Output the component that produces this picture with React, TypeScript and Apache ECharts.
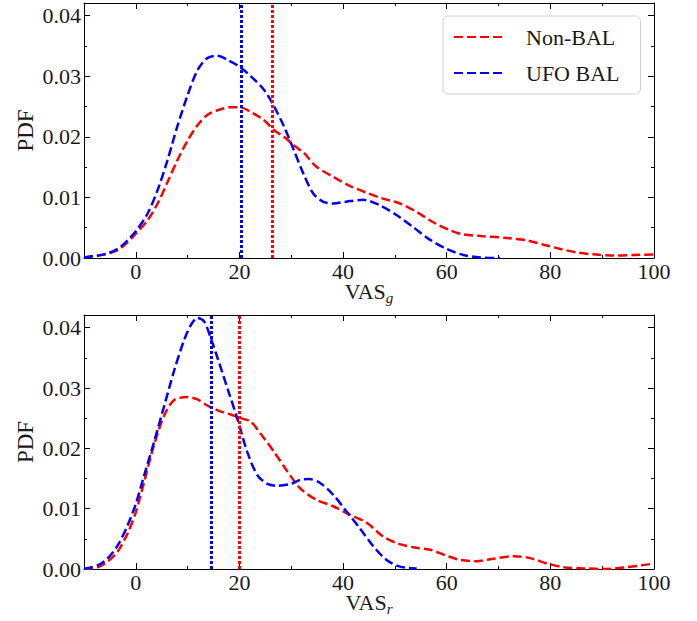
import React, { useEffect, useRef } from "react";
import * as echarts from "echarts";

// ---------- data ----------
const seriesNames = ["Non-BAL", "UFO BAL"];

// Top panel (VAS_g)
const gNonBalX = [-10, -6.1, -3.5, -1.6, 0, 2.25, 4.2, 6.1, 8.0, 10, 11.9, 13.8, 15.8, 18.3, 20, 22.2, 24.8, 26.7, 28.6, 30.5, 32.5, 34.8, 38.1, 41.3, 44.5, 47.7, 51, 54.2, 57.4, 60.6, 63.2, 67.1, 71.6, 75.5, 78.7, 81.9, 85.2, 88.4, 92.3, 96.1, 100];
const gNonBalY = [0.0001, 0.0006, 0.0013, 0.0026, 0.004, 0.0062, 0.009, 0.0125, 0.0161, 0.0194, 0.0219, 0.0236, 0.0244, 0.0249, 0.0249, 0.0241, 0.0227, 0.0211, 0.02, 0.0186, 0.0173, 0.0151, 0.0134, 0.0119, 0.0108, 0.0098, 0.009, 0.0076, 0.0059, 0.0046, 0.0039, 0.0036, 0.0033, 0.0029, 0.0022, 0.0015, 0.0009, 0.0006, 0.0004, 0.0005, 0.0006];
const gUfoX = [-10, -6.1, -3.5, -1.6, 0, 2.25, 4.2, 6.1, 8.0, 10, 11.9, 13.8, 15.8, 17.7, 20, 22.2, 24.8, 26.7, 28.6, 30.5, 32.3, 34.2, 36.1, 38.1, 40.6, 43.9, 47.1, 50.3, 53.5, 56.8, 60, 63.2, 66.5, 70.3];
const gUfoY = [0.0001, 0.0006, 0.0015, 0.0029, 0.0044, 0.0073, 0.0112, 0.0161, 0.0217, 0.0269, 0.031, 0.033, 0.0334, 0.0327, 0.0316, 0.03, 0.0277, 0.025, 0.0217, 0.0178, 0.014, 0.0107, 0.0093, 0.009, 0.0093, 0.0096, 0.0087, 0.0071, 0.0051, 0.003, 0.0015, 0.0005, 0.0001, 0];
const gMedians = [26.4, 20.3];

// Bottom panel (VAS_r)
const rNonBalX = [-10, -7.4, -5.5, -3.5, -1.6, 0, 1.6, 3.5, 5.5, 7.4, 10, 11.9, 13.8, 15.8, 18.3, 20.3, 22.2, 24.1, 26.7, 29.3, 31.8, 34.8, 38.1, 41.3, 44.5, 47.7, 50.3, 53.5, 56.8, 60, 62.6, 65.8, 69, 72.9, 76.1, 79.4, 82.6, 86.5, 91, 94.8, 100];
const rNonBalY = [0, 0.0003, 0.0012, 0.0029, 0.0059, 0.0094, 0.0144, 0.0205, 0.0255, 0.028, 0.0285, 0.0281, 0.0271, 0.0263, 0.0256, 0.025, 0.0244, 0.0224, 0.0194, 0.0161, 0.0133, 0.0115, 0.0104, 0.009, 0.0077, 0.0054, 0.0043, 0.0036, 0.0032, 0.0022, 0.0015, 0.0013, 0.0017, 0.0021, 0.0018, 0.0009, 0.0003, 0.0001, 0, 0.0003, 0.0009];
const rUfoX = [-10, -7.4, -5.5, -3.5, -1.6, 0, 1.6, 3.5, 5.5, 7.4, 9.3, 10.6, 11.9, 13.2, 14.5, 15.8, 17.7, 19.6, 21.5, 23.5, 25.4, 27.3, 29.9, 31.8, 33.5, 35.5, 38.1, 40.6, 43.2, 45.8, 48.4, 51, 54.2];
const rUfoY = [0, 0.0006, 0.0017, 0.0039, 0.0072, 0.0108, 0.0155, 0.021, 0.0271, 0.0329, 0.0379, 0.0404, 0.0416, 0.041, 0.0382, 0.0349, 0.0299, 0.0249, 0.0194, 0.0155, 0.0141, 0.0138, 0.0141, 0.0148, 0.0149, 0.0143, 0.0123, 0.0096, 0.0068, 0.0038, 0.0015, 0.0004, 0.0001];
const rMedians = [19.9, 14.5];

const xMajorTicks = [0, 20, 40, 60, 80, 100];
const xMinorTicks = [10, 30, 50, 70, 90];
const yMajorTicks = [0, 0.01, 0.02, 0.03, 0.04];
const yMinorTicks = [0.005, 0.015, 0.025, 0.035];
const X_MIN = -10;
const X_MAX = 100;
const Y_MAX = 0.0421;

const colors = ["#ff0000", "#0000ff"];
const FONT = "Liberation Serif";
const TEXT = "#1a1a1a";

const zip = (xs: number[], ys: number[]) => xs.map((x, i) => [x, ys[i]]);

function xAxes(gridIndex: number, sub: string) {
  const base = {
    type: "value",
    gridIndex,
    min: X_MIN,
    max: X_MAX,
    interval: 10,
    splitLine: { show: false },
  };
  const tickStyle = { color: "#000", width: 1 };
  const line = { show: true, onZero: false, lineStyle: { color: "#000", width: 1 } };
  const noLine = { show: false, onZero: false };
  return [
    {
      ...base,
      position: "bottom",
      axisLine: line,
      axisTick: { show: true, inside: true, length: 6, customValues: xMajorTicks, lineStyle: tickStyle },
      axisLabel: { show: true, customValues: xMajorTicks, fontSize: 22, fontFamily: FONT, color: TEXT, margin: 4, lineHeight: 18 },
      name: `{a|VAS}{b|${sub}}`,
      nameLocation: "middle",
      nameGap: 22,
      nameMoveOverlap: false,
      nameTextStyle: {
        rich: {
          a: { fontSize: 22, fontFamily: FONT, color: TEXT, lineHeight: 22, verticalAlign: "top" },
          b: { fontSize: 15, fontFamily: FONT, fontStyle: "italic", color: TEXT, lineHeight: 16, verticalAlign: "top", padding: [10, 0, 0, 0] },
        },
      },
    },
    {
      ...base,
      position: "top",
      axisLine: line,
      axisTick: { show: true, inside: true, length: 6, customValues: xMajorTicks, lineStyle: tickStyle },
      axisLabel: { show: false },
    },
    {
      ...base,
      position: "bottom",
      axisLine: noLine,
      axisTick: { show: true, inside: true, length: 3, customValues: xMinorTicks, lineStyle: tickStyle },
      axisLabel: { show: false },
    },
    {
      ...base,
      position: "top",
      axisLine: noLine,
      axisTick: { show: true, inside: true, length: 3, customValues: xMinorTicks, lineStyle: tickStyle },
      axisLabel: { show: false },
    },
  ];
}

function yAxes(gridIndex: number) {
  const base = {
    type: "value",
    gridIndex,
    min: 0,
    max: Y_MAX,
    interval: 0.01,
    splitLine: { show: false },
  };
  const tickStyle = { color: "#000", width: 1 };
  const line = { show: true, onZero: false, lineStyle: { color: "#000", width: 1 } };
  const noLine = { show: false, onZero: false };
  return [
    {
      ...base,
      position: "left",
      axisLine: line,
      axisTick: { show: true, inside: true, length: 6, customValues: yMajorTicks, lineStyle: tickStyle },
      axisLabel: {
        show: true,
        customValues: yMajorTicks,
        fontSize: 22,
        fontFamily: FONT,
        color: TEXT,
        margin: 3,
        formatter: (v: number) => v.toFixed(2),
      },
      name: "PDF",
      nameLocation: "middle",
      nameGap: 47,
      nameRotate: 90,
      nameMoveOverlap: false,
      nameTextStyle: { fontSize: 23, fontFamily: FONT, color: TEXT },
    },
    {
      ...base,
      position: "right",
      axisLine: line,
      axisTick: { show: true, inside: true, length: 6, customValues: yMajorTicks, lineStyle: tickStyle },
      axisLabel: { show: false },
    },
    {
      ...base,
      position: "left",
      axisLine: noLine,
      axisTick: { show: true, inside: true, length: 3, customValues: yMinorTicks, lineStyle: tickStyle },
      axisLabel: { show: false },
    },
    {
      ...base,
      position: "right",
      axisLine: noLine,
      axisTick: { show: true, inside: true, length: 3, customValues: yMinorTicks, lineStyle: tickStyle },
      axisLabel: { show: false },
    },
  ];
}

function curve(name: string, color: string, data: number[][], axisIdx: number, median: number) {
  return {
    type: "line",
    name,
    xAxisIndex: axisIdx,
    yAxisIndex: axisIdx,
    data,
    smooth: 0.3,
    symbol: "none",
    showSymbol: false,
    clip: true,
    lineStyle: { color, width: 2.5, type: [9, 4] },
    itemStyle: { color },
    markLine: {
      silent: true,
      symbol: "none",
      label: { show: false },
      lineStyle: { color, width: 3, type: [3, 2] },
      data: [{ xAxis: median }],
    },
    z: 3,
  };
}

export default function App() {
  const ref = useRef<HTMLDivElement>(null);
  useEffect(() => {
    if (!ref.current) return;
    const chart = echarts.init(ref.current, null, { renderer: "svg" });
    chart.setOption({
      animation: false,
      backgroundColor: "#ffffff",
      grid: [
        { left: 84, top: 3, width: 570, height: 255 },
        { left: 84, top: 315, width: 570, height: 254 },
      ],
      xAxis: [...xAxes(0, "g"), ...xAxes(1, "r")],
      yAxis: [...yAxes(0), ...yAxes(1)],
      legend: {
        data: seriesNames,
        orient: "vertical",
        left: 443,
        top: 16,
        padding: [9, 21, 9, 10],
        itemGap: 12,
        itemWidth: 50,
        itemHeight: 24,
        backgroundColor: "rgba(255,255,255,0.85)",
        borderColor: "#d0d0d0",
        borderWidth: 1,
        borderRadius: 5,
        itemStyle: { color: "rgba(0,0,0,0)", borderColor: "rgba(0,0,0,0)", borderWidth: 0, opacity: 0 },
        textStyle: { fontSize: 22, fontFamily: FONT, color: TEXT, padding: [0, 0, 0, 17], lineHeight: 24 },
      },
      series: [
        curve(seriesNames[0], colors[0], zip(gNonBalX, gNonBalY), 0, gMedians[0]),
        curve(seriesNames[1], colors[1], zip(gUfoX, gUfoY), 0, gMedians[1]),
        curve(seriesNames[0], colors[0], zip(rNonBalX, rNonBalY), 4, rMedians[0]),
        curve(seriesNames[1], colors[1], zip(rUfoX, rUfoY), 4, rMedians[1]),
      ],
    });
    return () => chart.dispose();
  }, []);
  return (
    <div
      ref={ref}
      style={{ position: "fixed", left: 0, top: 0, width: 697, height: 621, background: "#fff" }}
    />
  );
}
